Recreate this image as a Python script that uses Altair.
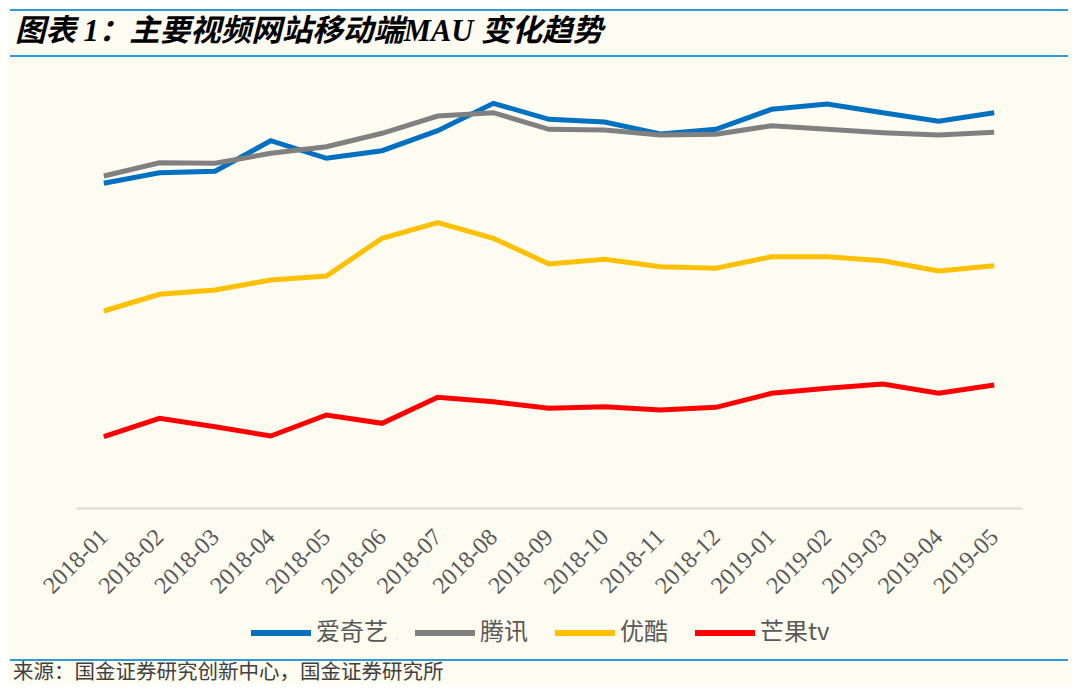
import altair as alt
import pandas as pd

months = ["2018-01", "2018-02", "2018-03", "2018-04", "2018-05", "2018-06",
          "2018-07", "2018-08", "2018-09", "2018-10", "2018-11", "2018-12",
          "2019-01", "2019-02", "2019-03", "2019-04", "2019-05"]

iqiyi = [32470, 33530, 33670, 36730, 34970, 35730, 37730, 40470, 38870,
         38600, 37400, 37870, 39870, 40400, 39530, 38670, 39530]
tencent = [33200, 34530, 34470, 35470, 36130, 37470, 39200, 39530, 37870,
           37800, 37300, 37370, 38230, 37870, 37530, 37300, 37570]
youku = [19700, 21370, 21800, 22800, 23200, 26970, 28530, 26970, 24400,
         24870, 24130, 23970, 25130, 25130, 24730, 23700, 24230]
mango = [7130, 8970, 8130, 7200, 9300, 8470, 11070, 10630, 9970,
         10130, 9800, 10070, 11470, 11970, 12400, 11470, 12300]

series_names = ["爱奇艺", "腾讯", "优酷", "芒果tv"]
series_colors = ["#0070C0", "#808080", "#FFC000", "#FF0000"]

title_text = "图表 1：主要视频网站移动端MAU 变化趋势"
source_text = "来源：国金证券研究创新中心，国金证券研究所"

rows = []
for name, vals in zip(series_names, [iqiyi, tencent, youku, mango]):
    for m, v in zip(months, vals):
        rows.append({"month": m, "series": name, "mau": v})
df = pd.DataFrame(rows)

one = pd.DataFrame({"k": [0]})

lines = alt.Chart(df).mark_line(strokeWidth=5).encode(
    x=alt.X("month:O",
            scale=alt.Scale(type="point", padding=0.5),
            axis=alt.Axis(title=None, labelAngle=-45, labelAlign="right",
                          labelBaseline="middle", labelPadding=25,
                          labelFont="Liberation Serif", labelFontSize=24,
                          labelColor="#595959", ticks=False, grid=False,
                          domainColor="#D9D9D9", domainWidth=2)),
    y=alt.Y("mau:Q", scale=alt.Scale(domain=[0, 44100]), axis=None),
    color=alt.Color("series:N",
                    scale=alt.Scale(domain=series_names, range=series_colors),
                    sort=series_names,
                    legend=alt.Legend(title=None, orient="none", legendX=172,
                                      legendY=533, direction="horizontal",
                                      symbolType="stroke", symbolSize=3600,
                                      symbolStrokeWidth=6,
                                      labelFont="Noto Sans CJK SC",
                                      labelFontSize=24, labelColor="#595959",
                                      labelOffset=2, columnPadding=15,
                                      padding=0)),
    order=alt.Order("month:O")
)

top_rule = alt.Chart(one).mark_rule(color="#2E9BD6", strokeWidth=2).encode(
    x=alt.value(-66), x2=alt.value(992), y=alt.value(-57))
mid_rule = alt.Chart(one).mark_rule(color="#2E9BD6", strokeWidth=2).encode(
    x=alt.value(-66), x2=alt.value(992), y=alt.value(-11))
foot_rule = alt.Chart(one).mark_rule(color="#2E9BD6", strokeWidth=2).encode(
    x=alt.value(-66), x2=alt.value(992), y=alt.value(593))

title = alt.Chart(one).mark_text(
    align="left", baseline="middle", font="Liberation Serif, Noto Sans CJK SC",
    fontSize=30.5, fontStyle="italic", fontWeight="bold", color="#000000"
).encode(x=alt.value(-61), y=alt.value(-35), text=alt.value(title_text))

source = alt.Chart(one).mark_text(
    align="left", baseline="middle", font="Noto Sans CJK SC",
    fontSize=20.5, color="#404040"
).encode(x=alt.value(-63), y=alt.value(606), text=alt.value(source_text))

chart = alt.layer(lines, top_rule, mid_rule, foot_rule, title, source).properties(
    width=946, height=441,
    padding={"left": 68, "top": 59, "right": 50, "bottom": 176},
    autosize="none",
    background="#FEFBF1"
).configure_view(stroke=None)

chart.save("out.html", embed_options={"renderer": "svg", "actions": False})
